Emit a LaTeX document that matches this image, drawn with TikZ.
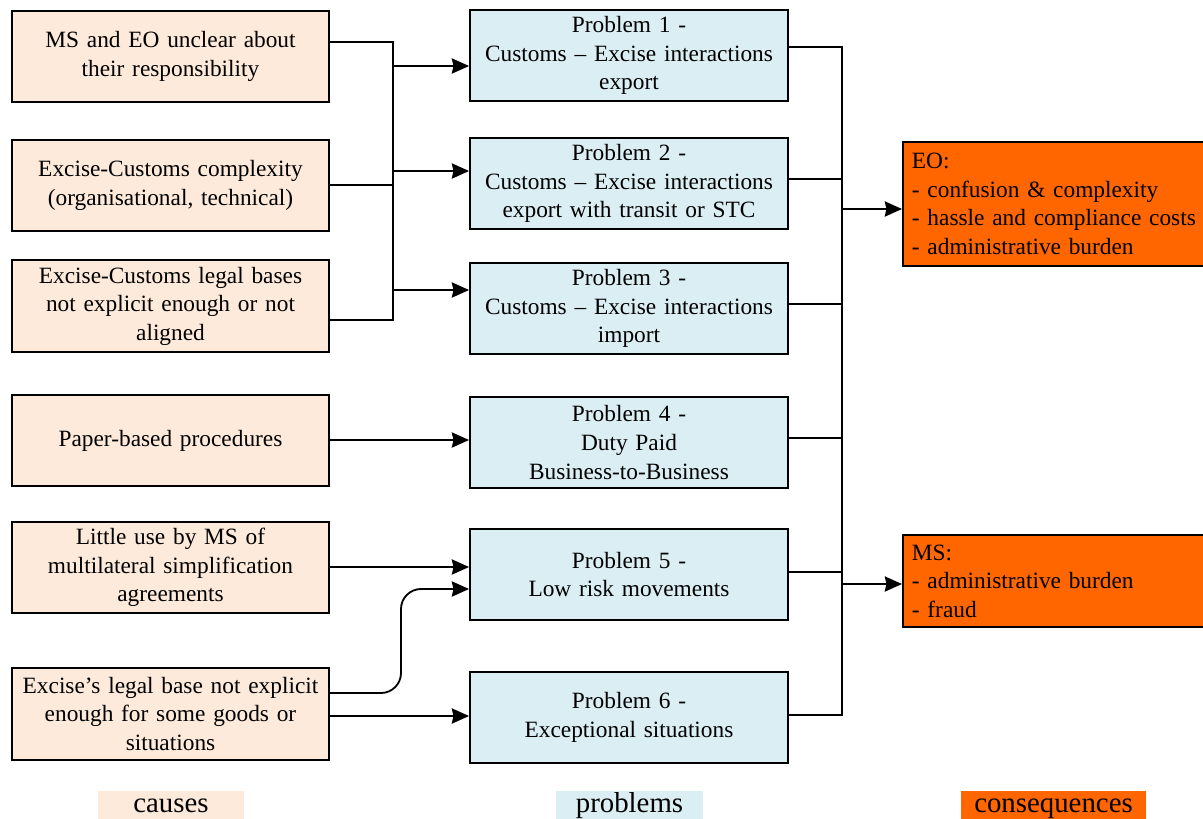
\documentclass[tikz,border=0pt]{standalone}
\usepackage{fontspec}
\setmainfont{Liberation Serif}
\usetikzlibrary{arrows.meta}
\definecolor{causefill}{HTML}{FDEADA}
\definecolor{probfill}{HTML}{DAEEF3}
\definecolor{consfill}{HTML}{FF6600}

\begin{document}
\begin{tikzpicture}[x=0.025cm, y=-0.025cm, line width=1.3pt,
    font=\fontsize{16.6}{20.3}\selectfont,
    cause/.style={draw, fill=causefill, minimum width=7.93cm, minimum height=2.28cm, text width=7.7cm, align=center, inner sep=1pt},
    problem/.style={draw, fill=probfill, minimum width=7.95cm, minimum height=2.28cm, text width=7.7cm, align=center, inner sep=1pt},
    conseq/.style={draw, fill=consfill, anchor=west, minimum width=7.53cm, text width=7.4cm, align=left, inner xsep=0.225cm},
    legend/.style={fill=#1, text height=14.5pt, text depth=5pt, inner ysep=1pt, font=\fontsize{20.5}{24}\selectfont},
    arr/.style={-{Stealth[length=0.43cm, width=0.38cm, inset=0.04cm]}}]
    \useasboundingbox (0,0) rectangle (1203,818);

    % causes
    \node[cause] (C1) at (170.5,56.5) {MS and EO unclear about\\their responsibility};
    \node[cause] (C2) at (170.5,185.5) {Excise-Customs complexity\\(organisational, technical)};
    \node[cause] (C3) at (170.5,306) {Excise-Customs legal bases\\not explicit enough or not\\aligned};
    \node[cause] (C4) at (170.5,440.5) {Paper-based procedures};
    \node[cause] (C5) at (170.5,567.5) {Little use by MS of\\multilateral simplification\\agreements};
    \node[cause] (C6) at (170.5,714) {Excise’s legal base not explicit\\enough for some goods or\\situations};

    % problems
    \node[problem] (P1) at (629,55.5) {Problem 1 -\\Customs – Excise interactions\\export};
    \node[problem] (P2) at (629,183.5) {Problem 2 -\\Customs – Excise interactions\\export with transit or STC};
    \node[problem] (P3) at (629,308.5) {Problem 3 -\\Customs – Excise interactions\\import};
    \node[problem] (P4) at (629,442.5) {Problem 4 -\\Duty Paid\\Business-to-Business};
    \node[problem] (P5) at (629,574.5) {Problem 5 -\\Low risk movements};
    \node[problem] (P6) at (629,717.5) {Problem 6 -\\Exceptional situations};

    % consequences
    \node[conseq, minimum height=3.1cm] (EO) at (902,204) {EO:\\- confusion \& complexity\\- hassle and compliance costs\\- administrative burden};
    \node[conseq, minimum height=2.3cm] (MS) at (902,581) {MS:\\- administrative burden\\- fraud};

    % causes -> problems
    \coordinate (bl1) at (393,42);
    \coordinate (bl2) at (393,320);
    \draw (C1.east |- bl1) -- (bl1) -- (bl2) -- (C3.east |- bl2);
    \draw (C2.east |- 0,185) -- (bl1 |- 0,185);
    \draw[arr] (bl1 |- 0,66) -- (P1.west |- 0,66);
    \draw[arr] (bl1 |- 0,171) -- (P2.west |- 0,171);
    \draw[arr] (bl1 |- 0,290) -- (P3.west |- 0,290);
    \draw[arr] (C4.east |- 0,440) -- (P4.west |- 0,440);
    \draw[arr] (C5.east |- 0,567) -- (P5.west |- 0,567);
    \draw[arr, rounded corners=0.5cm] (C6.east |- 0,693) -| (401,589) -- (P5.west |- 0,589);
    \draw[arr] (C6.east |- 0,716) -- (P6.west |- 0,716);

    % problems -> consequences
    \coordinate (br1) at (842,47);
    \coordinate (br2) at (842,715);
    \draw (P1.east |- br1) -- (br1) -- (br2) -- (P6.east |- br2);
    \foreach \n/\y in {2/179,3/304,4/438,5/572}
        \draw (P\n.east |- 0,\y) -- (br1 |- 0,\y);
    \draw[arr] (br1 |- 0,209) -- (EO.west |- 0,209);
    \draw[arr] (br1 |- 0,584) -- (MS.west |- 0,584);

    % legend
    \node[legend=causefill, minimum width=3.65cm] (Lc) at (171,806) {causes};
    \node[legend=probfill, minimum width=3.68cm] (Lp) at (629.5,806) {problems};
    \node[legend=consfill, minimum width=4.63cm] (Lq) at (1053.5,806) {consequences};
\end{tikzpicture}
\end{document}
